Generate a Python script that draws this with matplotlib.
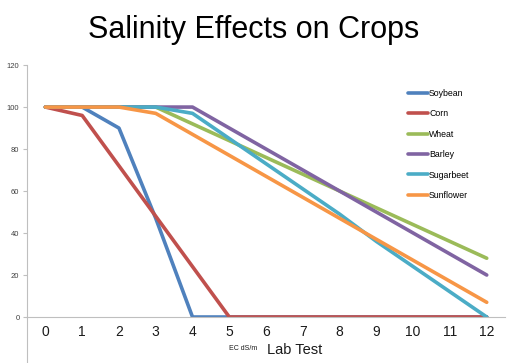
import matplotlib
matplotlib.use('Agg')
import matplotlib.pyplot as plt

plt.rcParams['font.family'] = ['Liberation Sans', 'DejaVu Sans']

ec = [0, 1, 2, 3, 4, 5, 6, 7, 8, 9, 10, 11, 12]

soybean = [100, 100, 90, 47, 0, 0, 0, 0, 0, 0, 0, 0, 0]
corn = [100, 96, 72, 48, 24, 0, 0, 0, 0, 0, 0, 0, 0]
wheat = [100, 100, 100, 100, 92, 84, 76, 68, 60, 52, 44, 36, 28]
barley = [100, 100, 100, 100, 100, 90, 80, 70, 60, 50, 40, 30, 20]
sugarbeet = [100, 100, 100, 100, 97, 85, 73, 61, 49, 36, 24, 12, 0]
sunflower = [100, 100, 100, 97, 87, 77, 67, 57, 47, 37, 27, 17, 7]

series = [
    ('Soybean', soybean, '#4F81BD'),
    ('Corn', corn, '#C0504D'),
    ('Wheat', wheat, '#9BBB59'),
    ('Barley', barley, '#8064A2'),
    ('Sugarbeet', sugarbeet, '#4BACC6'),
    ('Sunflower', sunflower, '#F79646'),
]

fig = plt.figure(figsize=(5.07, 3.63), dpi=100)
ax = fig.add_axes([0.0533, 0.1267, 0.943, 0.694])

for nombre, valores, color in series:
    ax.plot(ec, valores, color=color, lw=2.6, label=nombre, solid_capstyle='round')

ax.set_xlim(-0.5, 12.5)
ax.set_ylim(0, 120)
ax.set_yticks(range(0, 121, 20))
ax.set_xticks(ec)

for s in ['top', 'right']:
    ax.spines[s].set_visible(False)
for s in ['left', 'bottom']:
    ax.spines[s].set_color('#BFBFBF')
    ax.spines[s].set_linewidth(0.8)

ax.tick_params(axis='y', labelsize=5.5, labelcolor='#404040', color='#BFBFBF', length=3, pad=2.5)
ax.tick_params(axis='x', labelsize=10, labelcolor='#1a1a1a', length=0, pad=6)

# el eje vertical sigue hacia abajo como en excel
ax.plot([-0.5, -0.5], [0, -22], color='#BFBFBF', lw=0.8, clip_on=False)

fig.text(0.5, 0.917, 'Salinity Effects on Crops', ha='center', va='center', fontsize=22)
fig.text(0.527, 0.035, 'Lab Test', ha='left', va='center', fontsize=10.5, color='#1a1a1a')
fig.text(0.507, 0.04, 'EC dS/m', ha='right', va='center', fontsize=5, color='#1a1a1a')

fig.legend(loc='upper left', bbox_to_anchor=(0.805, 1 - 89 / 363), frameon=False,
           fontsize=6.3, handlelength=2.3, handletextpad=0.1, labelspacing=1.3,
           borderpad=0, borderaxespad=0)

fig.savefig('out.png', dpi=100)
